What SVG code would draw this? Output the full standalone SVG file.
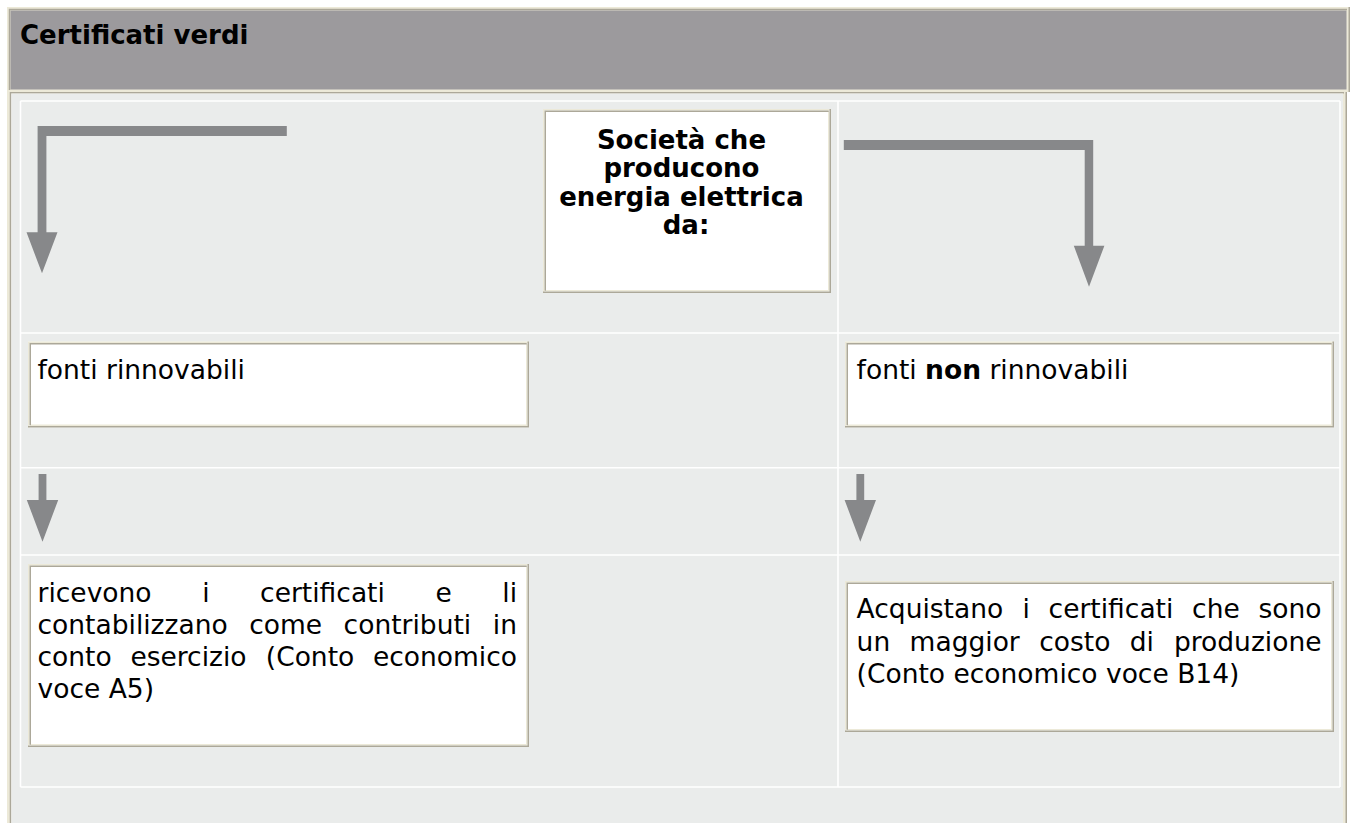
<svg xmlns="http://www.w3.org/2000/svg" width="1352" height="823" viewBox="0 0 1352 823">
<style>
.t{font-family:"DejaVu Sans",Verdana,"Liberation Sans",sans-serif;font-size:26.5px;fill:#000}
.hb{font-family:"DejaVu Sans",Verdana,"Liberation Sans",sans-serif;font-size:26px;font-weight:bold;fill:#000}
.b{font-weight:bold}
.lt{fill:none;stroke:#ece9d8;stroke-width:1.5}
.dk{fill:none;stroke:#aca899;stroke-width:1.5}
.wl{fill:none;stroke:#ffffff;stroke-width:1.6}
.box{fill:#ffffff}
.arr{fill:#87888a}
</style>
<rect width="1352" height="823" fill="#ffffff"/>
<g id="frame">
  <rect x="7" y="7" width="1343" height="85" fill="#ece9d8"/>
  <rect x="1348.5" y="7" width="1.5" height="85" fill="#aca899"/>
  <path class="dk" d="M9.5,90 V9.5 H1347"/>
  <rect x="10.5" y="10.5" width="1336" height="79" fill="#9c9a9d"/>
  <rect x="7" y="92" width="1340" height="731" fill="#ece9d8"/>
  <rect x="1345.5" y="92" width="1.5" height="731" fill="#aca899"/>
  <path class="dk" d="M10.5,823 V92.75 H1344"/>
  <rect x="11.25" y="93.5" width="1331.75" height="729.5" fill="#eaeceb"/>
  <path class="wl" d="M20.5,101 H1340 M20.5,333 H1340 M20.5,467.7 H1340 M20.5,555 H1340 M20.5,787 H1340 M20.5,101 V787 M838,101 V787 M1340,101 V787"/>
</g>
<g id="title">
  <text class="hb" x="20" y="44.3">Certificati verdi</text>
</g>
<g id="connectors">
  <path id="arrow-left" class="arr" d="M286.8,126 H37.6 V232.3 H26.5 L42,273.3 L57.5,232.3 H46.4 V136 H286.8 Z"/>
  <path id="arrow-right" class="arr" d="M843.8,140 H1093.2 V245.7 H1104.4 L1089,286.7 L1073.8,245.7 H1084.7 V150 H843.8 Z"/>
  <path id="arrow-left-2" class="arr" d="M38.6,474 H46.4 V500 H58.2 L42.5,541.7 L26.8,500 H38.6 Z"/>
  <path id="arrow-right-2" class="arr" d="M856.4,474 H864.2 V500 H876 L860.3,541.7 L844.6,500 H856.4 Z"/>
</g>
<g id="node-societa">
  <rect class="box" x="543" y="109" width="288" height="184"/>
  <path class="lt" d="M543.75,293 V109.75 H831 M545.25,290.75 H828.75 V111.25"/>
  <path class="dk" d="M830.25,109 V292.25 H543 M545.25,290.75 V111.25 H828.75"/>
  <text class="hb" text-anchor="middle">
    <tspan x="686" y="148.5">Società che</tspan>
    <tspan x="686" y="177">producono</tspan>
    <tspan x="686" y="205.5">energia elettrica</tspan>
    <tspan x="686" y="234">da:</tspan>
  </text>
</g>
<g id="node-rinnovabili">
  <rect class="box" x="28" y="341.5" width="501" height="86"/>
  <path class="lt" d="M28.75,427.5 V342.25 H529 M30.25,425.25 H526.75 V343.75"/>
  <path class="dk" d="M528.25,341.5 V426.75 H28 M30.25,425.25 V343.75 H526.75"/>
  <text class="t" x="37.5" y="379">fonti rinnovabili</text>
</g>
<g id="node-non-rinnovabili">
  <rect class="box" x="845" y="341.5" width="489" height="86"/>
  <path class="lt" d="M845.75,427.5 V342.25 H1334 M847.25,425.25 H1331.75 V343.75"/>
  <path class="dk" d="M1333.25,341.5 V426.75 H845 M847.25,425.25 V343.75 H1331.75"/>
  <text class="t" x="856.6" y="379">fonti <tspan class="b">non</tspan> rinnovabili</text>
</g>
<g id="node-ricevono">
  <rect class="box" x="28" y="564" width="501" height="183"/>
  <path class="lt" d="M28.75,747 V564.75 H529 M30.25,744.75 H526.75 V566.25"/>
  <path class="dk" d="M528.25,564 V746.25 H28 M30.25,744.75 V566.25 H526.75"/>
  <text class="t" x="37.5" y="601.5">ricevono</text>
  <text class="t" x="202.2" y="601.5">i</text>
  <text class="t" x="260.1" y="601.5">certificati</text>
  <text class="t" x="435.5" y="601.5">e</text>
  <text class="t" x="517" y="601.5" text-anchor="end">li</text>
  <text class="t" x="37.5" y="633.8">contabilizzano</text>
  <text class="t" x="249.2" y="633.8">come</text>
  <text class="t" x="343.6" y="633.8">contributi</text>
  <text class="t" x="517" y="633.8" text-anchor="end">in</text>
  <text class="t" x="37.5" y="666.1">conto</text>
  <text class="t" x="130.4" y="666.1">esercizio</text>
  <text class="t" x="265.8" y="666.1">(Conto</text>
  <text class="t" x="517" y="666.1" text-anchor="end">economico</text>
  <text class="t" x="37.5" y="698.4">voce A5)</text>
</g>
<g id="node-acquistano">
  <rect class="box" x="845" y="581" width="489" height="151"/>
  <path class="lt" d="M845.75,732 V581.75 H1334 M847.25,729.75 H1331.75 V583.25"/>
  <path class="dk" d="M1333.25,581 V731.25 H845 M847.25,729.75 V583.25 H1331.75"/>
  <text class="t" x="856.6" y="618.3">Acquistano</text>
  <text class="t" x="1022.5" y="618.3">i</text>
  <text class="t" x="1048.6" y="618.3">certificati</text>
  <text class="t" x="1192.1" y="618.3">che</text>
  <text class="t" x="1321.5" y="618.3" text-anchor="end">sono</text>
  <text class="t" x="856.6" y="650.5">un</text>
  <text class="t" x="909.6" y="650.5">maggior</text>
  <text class="t" x="1039.2" y="650.5">costo</text>
  <text class="t" x="1129.8" y="650.5">di</text>
  <text class="t" x="1321.5" y="650.5" text-anchor="end">produzione</text>
  <text class="t" x="856.6" y="682.7">(Conto economico voce B14)</text>
</g>
</svg>
